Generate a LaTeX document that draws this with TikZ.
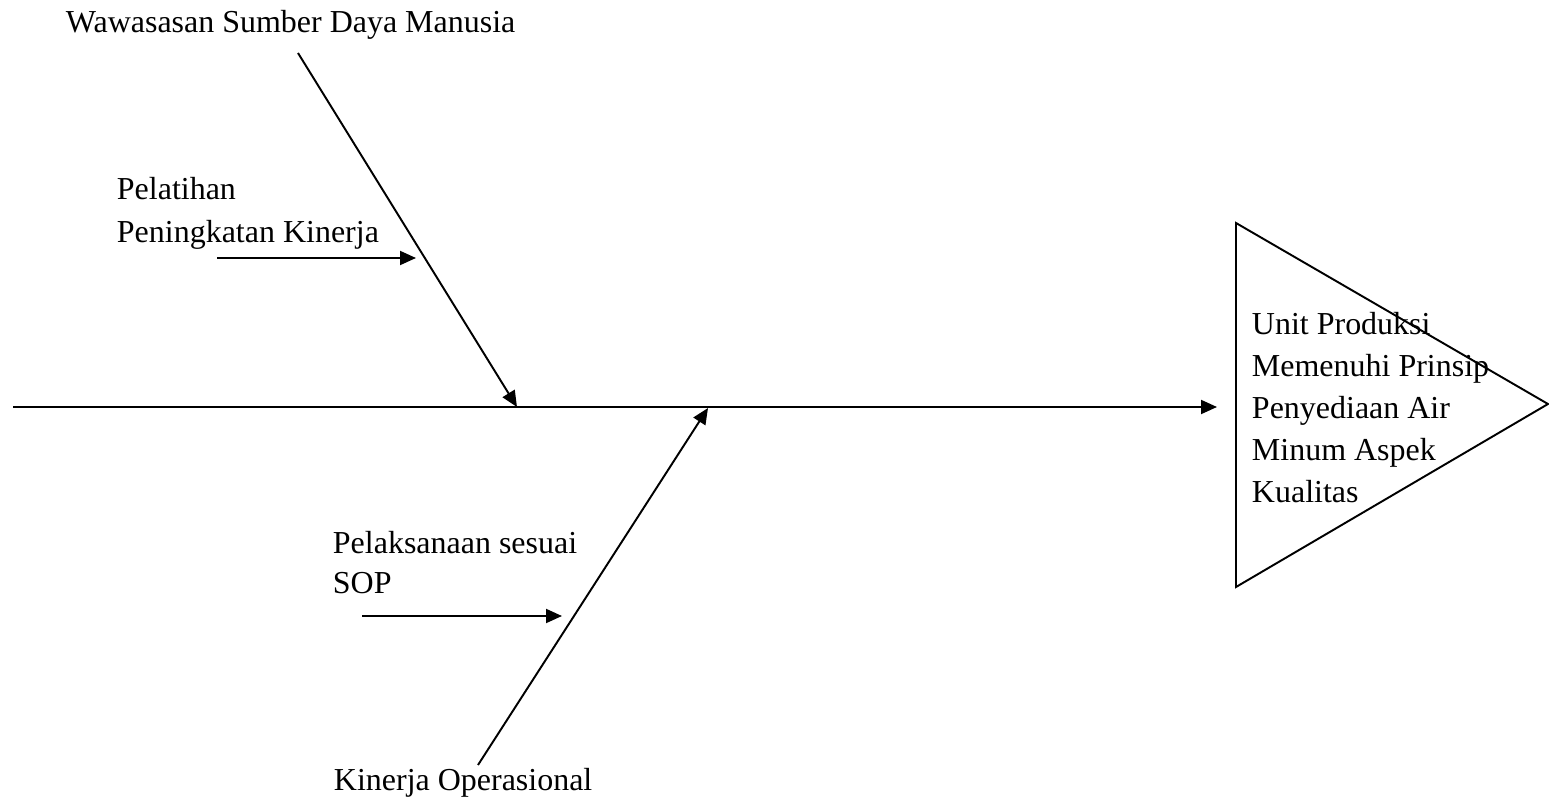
\documentclass[tikz,border=0pt]{standalone}
\usepackage{fontspec}
\setmainfont{Liberation Serif}
\usetikzlibrary{arrows.meta}

\tikzset{
  lbl/.style={anchor=base west, inner sep=0pt, align=left,
    font=\fontsize{18.2}{23.9}\selectfont},
  bone/.style={line width=1.1pt, -{Triangle[length=0.32cm, width=0.28cm]}}
}

\begin{document}
\begin{tikzpicture}[x=0.02cm, y=-0.02cm, line width=1.1pt]
    % Rahmen (1549 x 807 px)
    \useasboundingbox (0,0) rectangle (1549,807);

    % Koordinaten
    \coordinate (spineS) at (13,407);
    \coordinate (spineE) at (1217,407);
    \coordinate (sdmS) at (298,53);
    \coordinate (sdmE) at (517,407);
    \coordinate (opS) at (478,765);
    \coordinate (opE) at (708,408);
    \coordinate (latS) at (217,258);
    \coordinate (latE) at (416,258);
    \coordinate (sopS) at (362,616);
    \coordinate (sopE) at (562,616);

    % Kepala ikan (segitiga)
    \draw (1236,223) coordinate (headA) -- (1548,404) coordinate (headC)
        -- (1236,587) coordinate (headB) -- cycle;

    % Tulang utama
    \draw[bone] (spineS) -- (spineE);

    % Tulang SDM dan operasional
    \draw[bone] (sdmS) -- (sdmE);
    \draw[bone] (opS) -- (opE);

    % Sub-sebab
    \draw[bone] (latS) -- (latE);
    \draw[bone] (sopS) -- (sopE);

    % Label (base = baris terakhir)
    \node[lbl] (sdm) at (65,33) {Wawasasan Sumber Daya Manusia};
    \node[lbl] (lat) at (116,243) {Pelatihan\\[0.6pt]Peningkatan Kinerja};
    \node[lbl] (sop) at (332,593) {Pelaksanaan sesuai\\[-1.3pt]SOP};
    \node[lbl] (op) at (333,790) {Kinerja Operasional};
    \node[lbl] (head) at (1251,502) {Unit Produksi\\Memenuhi Prinsip\\Penyediaan Air\\Minum Aspek\\Kualitas};
\end{tikzpicture}
\end{document}
